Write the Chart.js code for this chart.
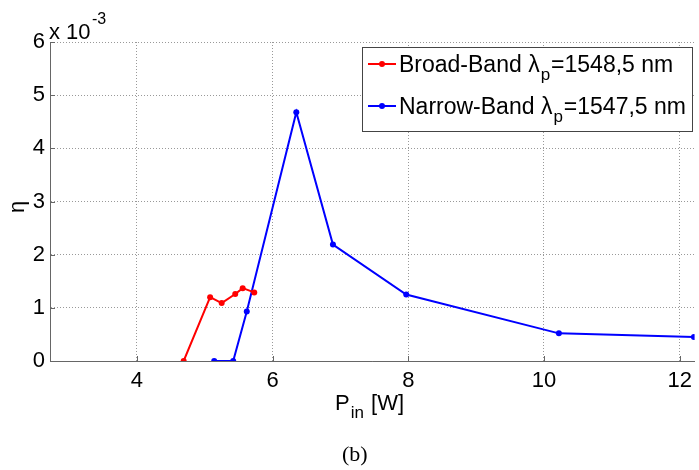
<!DOCTYPE html>
<html>
<head>
<meta charset="utf-8">
<script src="https://cdn.jsdelivr.net/npm/chart.js@4.4.1/dist/chart.umd.min.js"></script>
<style>
  html, body { margin: 0; padding: 0; background: #fff; }
  #wrap { width: 699px; height: 470px; position: relative; }
</style>
</head>
<body>
<div id="wrap"><canvas id="grafico"></canvas></div>
<script>
// ── Dados ───────────────────────────────────────────────
var PIN_BROAD  = [4.69, 5.08, 5.25, 5.45, 5.56, 5.73];
var ETA_BROAD  = [0, 1.20, 1.09, 1.26, 1.37, 1.29];
var PIN_NARROW = [5.14, 5.42, 5.62, 6.35, 6.89, 7.97, 10.22, 12.21];
var ETA_NARROW = [0, 0, 0.93, 4.68, 2.19, 1.25, 0.52, 0.45];
var TICKS_X = [4, 6, 8, 10, 12];
var TICKS_Y = [0, 1, 2, 3, 4, 5, 6];
var LEGENDAS = [
  { nome: 'Broad-Band \u03bb', sub: 'p', resto: '=1548,5 nm' },
  { nome: 'Narrow-Band \u03bb', sub: 'p', resto: '=1547,5 nm' }
];

var VERMELHO = '#ff0000';
var AZUL     = '#0000ff';
var FONTE    = "'Liberation Sans', Arial, sans-serif";

function pares(xs, ys) {
  var out = [];
  for (var i = 0; i < xs.length; i++) out.push({ x: xs[i], y: ys[i] });
  return out;
}

function serie(pts, cor) {
  return {
    data: pts,
    borderColor: cor,
    backgroundColor: cor,
    borderWidth: 2,
    pointRadius: 3,
    pointBorderWidth: 0,
    pointBackgroundColor: cor,
    tension: 0
  };
}

// texto com subscrito (λp, Pin)
function textoSub(ctx, x, y, base, sub, resto, tam) {
  ctx.font = tam + 'px ' + FONTE;
  ctx.fillText(base, x, y);
  x += ctx.measureText(base).width + 1;
  ctx.font = Math.round(tam * 0.75) + 'px ' + FONTE;
  ctx.fillText(sub, x, y + tam * 0.35);
  x += ctx.measureText(sub).width + 1;
  ctx.font = tam + 'px ' + FONTE;
  ctx.fillText(resto, x, y);
}

// Rótulos, legenda e marcas internas dos eixos
var extras = {
  id: 'extras',
  afterDraw: function(chart) {
    var ctx = chart.ctx;
    var a = chart.chartArea;
    var sx = chart.scales.x, sy = chart.scales.y;
    ctx.save();

    // marcas internas
    ctx.strokeStyle = '#666';
    ctx.lineWidth = 1;
    TICKS_X.forEach(function(v) {
      var px = Math.round(sx.getPixelForValue(v)) + 0.5;
      ctx.beginPath(); ctx.moveTo(px, a.bottom); ctx.lineTo(px, a.bottom - 5); ctx.stroke();
    });
    TICKS_Y.forEach(function(v) {
      var py = Math.round(sy.getPixelForValue(v)) + 0.5;
      ctx.beginPath(); ctx.moveTo(a.left, py); ctx.lineTo(a.left + 5, py); ctx.stroke();
    });

    ctx.fillStyle = '#000';
    ctx.textBaseline = 'alphabetic';
    ctx.textAlign = 'left';

    // multiplicador do eixo y
    ctx.font = '22px ' + FONTE;
    ctx.fillText('x 10', 49, 39);
    ctx.font = '16px ' + FONTE;
    ctx.fillText('-3', 92, 24);

    // título do eixo x
    textoSub(ctx, 335, 410, 'P', 'in', ' [W]', 22);

    // título do eixo y
    ctx.save();
    ctx.translate(24, 207);
    ctx.rotate(-Math.PI / 2);
    ctx.textAlign = 'center';
    ctx.font = '22px ' + FONTE;
    ctx.fillText('\u03b7', 0, 0);
    ctx.restore();

    // (b)
    ctx.font = '22px "Liberation Serif", "Times New Roman", serif';
    ctx.fillText('(b)', 342, 461);

    // legenda
    var lx = 362, ly = 47, lw = 330, lh = 84;
    ctx.fillStyle = '#fff';
    ctx.fillRect(lx, ly, lw, lh);
    ctx.strokeStyle = '#444';
    ctx.lineWidth = 1;
    ctx.strokeRect(lx + 0.5, ly + 0.5, lw, lh);
    var cores = [VERMELHO, AZUL];
    var bases = [72, 114];
    for (var i = 0; i < LEGENDAS.length; i++) {
      var yc = bases[i] - 8;
      ctx.strokeStyle = cores[i];
      ctx.lineWidth = 2;
      ctx.beginPath(); ctx.moveTo(368, yc); ctx.lineTo(396, yc); ctx.stroke();
      ctx.fillStyle = cores[i];
      ctx.beginPath(); ctx.arc(382, yc, 3, 0, Math.PI * 2); ctx.fill();
      ctx.fillStyle = '#000';
      textoSub(ctx, 399, bases[i], LEGENDAS[i].nome, LEGENDAS[i].sub, LEGENDAS[i].resto, 23);
    }
    ctx.restore();
  }
};

new Chart(document.getElementById('grafico'), {
  type: 'line',
  data: {
    datasets: [
      serie(pares(PIN_BROAD, ETA_BROAD), VERMELHO),
      serie(pares(PIN_NARROW, ETA_NARROW), AZUL)
    ]
  },
  options: {
    responsive: true,
    maintainAspectRatio: false,
    animation: false,
    layout: { padding: { top: 42, right: 2, left: 0, bottom: 0 } },
    plugins: {
      legend: { display: false },
      tooltip: { enabled: false }
    },
    scales: {
      x: {
        type: 'linear',
        min: 2.72,
        max: 12.22,
        afterBuildTicks: function(s) {
          s.ticks = TICKS_X.map(function(v) { return { value: v }; });
        },
        afterFit: function(s) { s.height = 109; },
        grid: { color: '#999', lineWidth: 1, drawTicks: false },
        border: { display: true, color: '#666', width: 1, dash: [1, 2] },
        ticks: {
          color: '#000',
          padding: 7,
          maxRotation: 0,
          font: { family: FONTE, size: 22 }
        }
      },
      y: {
        type: 'linear',
        min: 0,
        max: 6,
        afterBuildTicks: function(s) {
          s.ticks = TICKS_Y.map(function(v) { return { value: v }; });
        },
        afterFit: function(s) { s.width = 50; },
        grid: { color: '#999', lineWidth: 1, drawTicks: false },
        border: { display: true, color: '#666', width: 1, dash: [1, 2] },
        ticks: {
          color: '#000',
          padding: 5,
          font: { family: FONTE, size: 22 }
        }
      }
    }
  },
  plugins: [extras]
});
</script>
</body>
</html>
